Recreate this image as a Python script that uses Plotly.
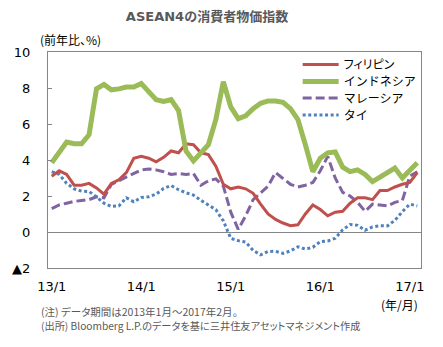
import plotly.graph_objects as go

months = list(range(50))
tick_pos = [0, 12, 24, 36, 48]
tick_text = ["13/1", "14/1", "15/1", "16/1", "17/1"]
y_ticks = [10, 8, 6, 4, 2, 0, -2]
y_tick_text = ["10", "8", "6", "4", "2", "0", "▲2"]

philippines = [3.1, 3.4, 3.2, 2.6, 2.6, 2.7, 2.45, 2.1, 2.7, 2.9, 3.3, 4.1,
               4.2, 4.1, 3.9, 4.15, 4.5, 4.4, 4.9, 4.85, 4.4, 4.3, 3.65, 2.65,
               2.4, 2.5, 2.4, 2.15, 1.55, 1.0, 0.7, 0.5, 0.35, 0.4, 1.0, 1.5,
               1.25, 0.9, 1.1, 1.15, 1.6, 1.9, 1.9, 1.8, 2.3, 2.3, 2.5, 2.65,
               2.75, 3.3]
indonesia = [3.85, 4.45, 5.0, 4.9, 4.9, 5.4, 7.95, 8.2, 7.9, 7.95, 8.05, 8.05,
             8.25, 7.8, 7.35, 7.25, 7.35, 6.75, 4.5, 3.95, 4.4, 4.85, 6.25, 8.35,
             6.95, 6.3, 6.45, 6.85, 7.15, 7.28, 7.28, 7.2, 6.85, 6.25, 4.85, 3.35,
             4.1, 4.4, 4.45, 3.6, 3.35, 3.45, 3.2, 2.8, 3.05, 3.3, 3.55, 3.0,
             3.4, 3.85]
malaysia = [1.3, 1.5, 1.6, 1.7, 1.75, 1.8, 1.95, 1.9, 2.65, 2.85, 3.05, 3.25,
            3.45, 3.5, 3.45, 3.35, 3.2, 3.25, 3.2, 3.25, 2.6, 2.85, 2.95, 2.55,
            1.1, 0.15, 0.9, 1.8, 2.15, 2.55, 3.3, 3.0, 2.65, 2.5, 2.6, 2.75,
            3.4, 4.2, 3.0, 2.2, 2.0, 1.65, 1.15, 1.55, 1.5, 1.45, 1.65, 1.75,
            3.1, 3.35]
thailand = [3.35, 3.2, 2.7, 2.4, 2.27, 2.25, 1.95, 1.6, 1.42, 1.45, 1.9, 1.68,
            1.92, 1.96, 2.1, 2.42, 2.58, 2.35, 2.18, 2.05, 1.76, 1.48, 1.24, 0.62,
            -0.35, -0.48, -0.56, -1.02, -1.27, -1.08, -1.07, -1.19, -1.05, -0.82, -0.95, -0.85,
            -0.53, -0.5, -0.35, 0.12, 0.42, 0.37, 0.1, 0.28, 0.35, 0.34, 0.65, 1.13,
            1.55, 1.45]

names = ["フィリピン", "インドネシア", "マレーシア", "タイ"]

JP = "Noto Sans CJK JP"
NUM = "DejaVu Sans"

fig = go.Figure()
fig.add_trace(go.Scatter(x=months, y=malaysia, mode="lines", name=names[2], legend="legend3",
                         line=dict(color="#8064A2", width=3, dash="9px,4px")))
fig.add_trace(go.Scatter(x=months, y=thailand, mode="lines", name=names[3], legend="legend4",
                         line=dict(color="#4F81BD", width=3, dash="3px,2.6px")))
fig.add_trace(go.Scatter(x=months, y=philippines, mode="lines", name=names[0], legend="legend",
                         line=dict(color="#C0504D", width=3)))
fig.add_trace(go.Scatter(x=months, y=indonesia, mode="lines", name=names[1], legend="legend2",
                         line=dict(color="#9BBB59", width=5)))

L, R, T, B = 46, 22, 52, 79
W, H = 443, 347
pw, ph = W - L - R, H - T - B

def lg(ypix):
    return dict(x=(297 - L) / pw, y=(T + ph - ypix) / ph, xanchor="left", yanchor="middle",
                bgcolor="rgba(0,0,0,0)", borderwidth=0, itemwidth=36,
                font=dict(family=JP, size=12, color="#000000"))

fig.update_layout(
    width=W, height=H,
    margin=dict(l=L, r=R, t=T, b=B),
    paper_bgcolor="white", plot_bgcolor="white",
    showlegend=True,
    legend=lg(64.5), legend2=lg(81.5), legend3=lg(98), legend4=lg(115),
    title=dict(text="<b>ASEAN4の消費者物価指数</b>", x=207 / W, xref="container", xanchor="center",
               y=1 - 16 / H, yref="container", yanchor="middle",
               font=dict(family=NUM + ", " + JP, size=13, color="#595959")),
    xaxis=dict(range=[-0.5, 49.5], tickvals=tick_pos, ticktext=tick_text, ticks="",
               showgrid=False, zeroline=False, showline=True, mirror=True,
               linecolor="#868686", linewidth=1, ticklabelstandoff=6,
               tickfont=dict(family=NUM, size=13, color="#000000")),
    yaxis=dict(range=[-2, 10], tickvals=y_ticks, ticktext=y_tick_text, ticks="inside",
               ticklen=4, tickcolor="#868686", showgrid=False,
               zeroline=True, zerolinecolor="#868686", zerolinewidth=1,
               showline=True, mirror=True, linecolor="#868686", linewidth=1,
               ticklabelstandoff=14,
               tickfont=dict(family=NUM, size=13, color="#000000")),
)

ann_texts = ["(前年比、%)", "(年/月)",
             "(注) データ期間は2013年1月～2017年2月。",
             "(出所) Bloomberg L.P.のデータを基に三井住友アセットマネジメント作成"]
ann_px = [(36, 39), (420, 304), (37, 311.5), (37, 325.5)]
specs = [("left", 12, "#000000"), ("right", 12, "#000000"), ("left", 10.5, "#595959"), ("left", 10.2, "#595959")]
anns = []
for txt, (px, py), (anchor, size, col) in zip(ann_texts, ann_px, specs):
    anns.append(dict(text=txt, showarrow=False, xref="paper", yref="paper",
                     x=(px - L) / pw, y=(T + ph - py) / ph, xanchor=anchor, yanchor="middle",
                     font=dict(family=JP, size=size, color=col)))
fig.update_layout(annotations=anns)

# proportional kana (like the original's proportional Japanese font), keeping each
# annotation's left edge (or right edge for the unit label) where plotly placed it
post = """
var ts = document.querySelectorAll('.annotation-text');
var info = [];
ts.forEach(function(t){ var b = t.getBBox(); info.push([t, b.x, b.x + b.width]); });
var s = document.createElement('style');
s.textContent = '.legendtext, .annotation-text {font-feature-settings:"palt";}';
document.head.appendChild(s);
info.forEach(function(r){
  var t = r[0];
  if (t.textContent.indexOf('年/月') >= 0) {
    t.setAttribute('text-anchor', 'end'); t.setAttribute('x', r[2]);
  } else {
    t.setAttribute('text-anchor', 'start'); t.setAttribute('x', r[1]);
  }
  t.querySelectorAll('tspan').forEach(function(sp){ if (sp.hasAttribute('x')) { sp.setAttribute('x', t.getAttribute('x')); } });
});
"""
fig.write_html("out.html", post_script=post)
